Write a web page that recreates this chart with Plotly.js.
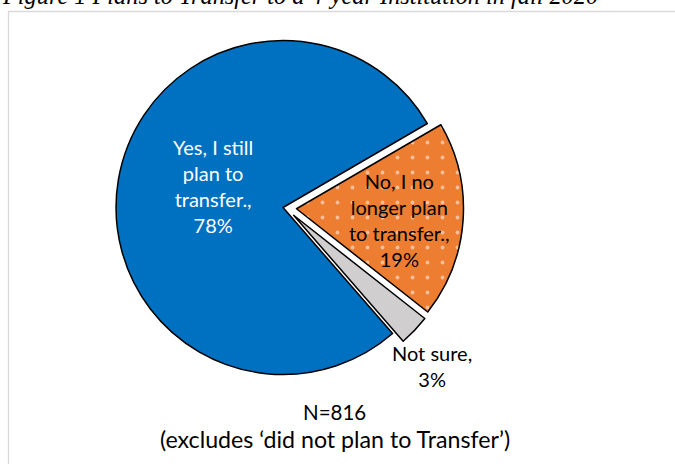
<!DOCTYPE html>
<html>
<head>
<meta charset="utf-8">
<script src="https://cdn.plot.ly/plotly-3.0.1.min.js"></script>
<style>html,body{margin:0;padding:0;background:#fff;}#chart{width:675px;height:464px;}</style>
</head>
<body>
<div id="chart"></div>
<script>
// ---- data ----
const figureTitle = 'Figure 1 Plans to Transfer to a 4-year Institution in fall 2020';
const categories = ['Yes, I still<br>plan to<br>transfer.', 'No, I no<br>longer plan<br>to transfer.', 'Not sure'];
const percents = [78, 19, 3];
const sliceColors = ['#0070C0', '#ED7D31', '#D0CECE'];
const noteLines = ['N=816', '(excludes \u2018did not plan to Transfer\u2019)'];

// ---- figure ----
const W = 675, H = 464;
const px = v => v / W;
const py = v => 1 - v / H;

const trace = {
  type: 'pie',
  labels: categories,
  values: percents,
  sort: false,
  direction: 'clockwise',
  rotation: 139,
  pull: [0.018, 0.063, 0.063],
  textinfo: 'none',
  hoverinfo: 'skip',
  marker: {
    colors: sliceColors,
    line: {color: '#000000', width: 1.5},
    pattern: {shape: ['', '.', ''], fgcolor: '#ffffff', size: 15, solidity: 0.05, fillmode: 'overlay'}
  },
  domain: {x: [px(108.5), px(463.5)], y: [py(385.5), py(30.5)]}
};

const labelFont = 'Lato, Calibri, Carlito, sans-serif';
const labelPos = [[213, 185.5], [399, 219.5], [432, 366]];
const labelColor = ['#ffffff', '#000000', '#000000'];
const annotations = categories.map((c, i) => ({
  xref: 'paper', yref: 'paper',
  x: px(labelPos[i][0]), y: py(labelPos[i][1]),
  xanchor: 'center', yanchor: 'middle',
  text: c + ',<br>' + percents[i] + '%',
  showarrow: false,
  font: {family: labelFont, size: 20, color: labelColor[i]}
}));
const notePos = [[334, 412], [335, 439]];
const noteSize = [20.5, 23.2];
noteLines.forEach((t, i) => annotations.push({
  xref: 'paper', yref: 'paper', x: px(notePos[i][0]), y: py(notePos[i][1]),
  xanchor: 'center', yanchor: 'middle',
  text: t, showarrow: false,
  font: {family: labelFont, size: noteSize[i], color: '#000000'}
}));
annotations.push({
  xref: 'paper', yref: 'paper', x: px(0), y: py(11.5),
  xanchor: 'left', yanchor: 'bottom',
  text: '<i>' + figureTitle + '</i>', showarrow: false,
  font: {family: '"Liberation Serif", "Times New Roman", serif', size: 24.3, color: '#000000'}
});

const layout = {
  width: W, height: H,
  margin: {l: 0, r: 0, t: 0, b: 0},
  paper_bgcolor: '#ffffff',
  showlegend: false,
  annotations: annotations,
  shapes: [{
    type: 'rect', xref: 'paper', yref: 'paper',
    x0: px(8.5), x1: 1.2, y0: -0.2, y1: py(11.5),
    line: {color: '#D9D9D9', width: 1.3}, fillcolor: 'rgba(0,0,0,0)', layer: 'below'
  }]
};

Plotly.newPlot('chart', [trace], layout, {displayModeBar: false, staticPlot: true});
</script>
</body>
</html>
